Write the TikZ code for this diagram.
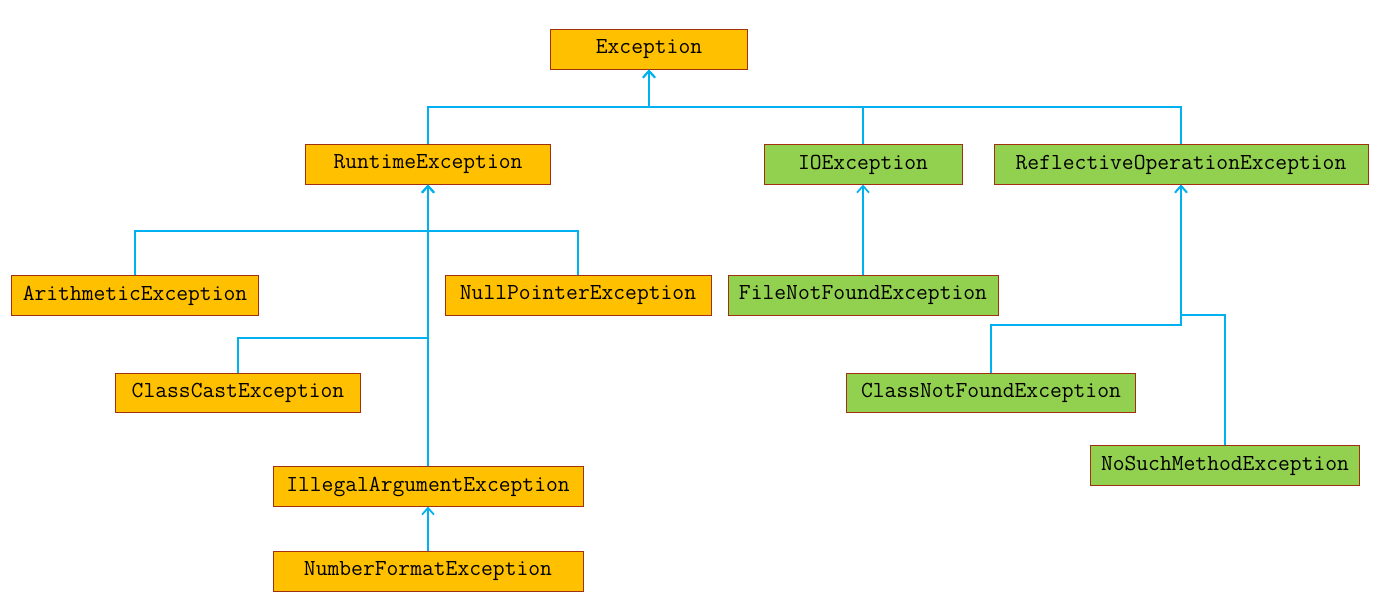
\documentclass[tikz,border=0pt]{standalone}
\usepackage{fontspec}
\usepackage{tikz}
\usetikzlibrary{arrows.meta}

\definecolor{boxorange}{HTML}{FFC000}
\definecolor{boxgreen}{HTML}{92D050}
\definecolor{boxedge}{HTML}{A03010}
\definecolor{linkblue}{HTML}{00B0F0}

\begin{document}
\begin{tikzpicture}[x=0.75pt, y=-0.75pt,
	every node/.style={font=\ttfamily\fontsize{17.2}{19}\selectfont},
	cls/.style={draw=boxedge, line width=0.75pt, minimum height=29.5pt, inner sep=0pt},
	rtcls/.style={cls, fill=boxorange},
	chkcls/.style={cls, fill=boxgreen},
	link/.style={draw=linkblue, line width=1.3pt, -{Straight Barb[length=5pt,width=9pt]}}]
	\useasboundingbox (0,0) rectangle (1381,605);
	% boxes
	\node[rtcls, minimum width=148pt] (exc) at (649,49.5) {Exception};
	\node[rtcls, minimum width=184pt] (rt) at (428,164.5) {RuntimeException};
	\node[chkcls, minimum width=148.5pt] (io) at (863,164.5) {IOException};
	\node[chkcls, minimum width=280.5pt] (ro) at (1181,164.5) {ReflectiveOperationException};
	\node[rtcls, minimum width=185pt] (ar) at (135,295.5) {ArithmeticException};
	\node[rtcls, minimum width=199.5pt] (np) at (578,295.5) {NullPointerException};
	\node[chkcls, minimum width=202.5pt] (fnf) at (863,295.5) {FileNotFoundException};
	\node[rtcls, minimum width=184pt] (cc) at (238,393) {ClassCastException};
	\node[chkcls, minimum width=217pt] (cnf) at (991,393) {ClassNotFoundException};
	\node[chkcls, minimum width=202pt] (nsm) at (1225,465.5) {NoSuchMethodException};
	\node[rtcls, minimum width=232.5pt] (ia) at (428,486.5) {IllegalArgumentException};
	\node[rtcls, minimum width=232.5pt] (nf) at (428,571.5) {NumberFormatException};
	% bends
	\coordinate (excbus) at (649,107);
	\coordinate (rtbus) at (428,231);
	\coordinate (ccbus) at (428,338);
	\coordinate (cnfbus) at (1181,325);
	\coordinate (nsmbus) at (1181,315);
	% inheritance
	\draw[link] (rt.north) |- (excbus) -- (exc.south);
	\draw[link] (io.north) |- (excbus) -- (exc.south);
	\draw[link] (ro.north) |- (excbus) -- (exc.south);
	\draw[link] (ar.north) |- (rtbus) -- (rt.south);
	\draw[link] (np.north) |- (rtbus) -- (rt.south);
	\draw[link] (cc.north) |- (ccbus) -- (rt.south);
	\draw[link] (ia.north) -- (rt.south);
	\draw[link] (nf.north) -- (ia.south);
	\draw[link] (fnf.north) -- (io.south);
	\draw[link] (cnf.north) |- (cnfbus) -- (ro.south);
	\draw[link] (nsm.north) |- (nsmbus) -- (ro.south);
\end{tikzpicture}
\end{document}
